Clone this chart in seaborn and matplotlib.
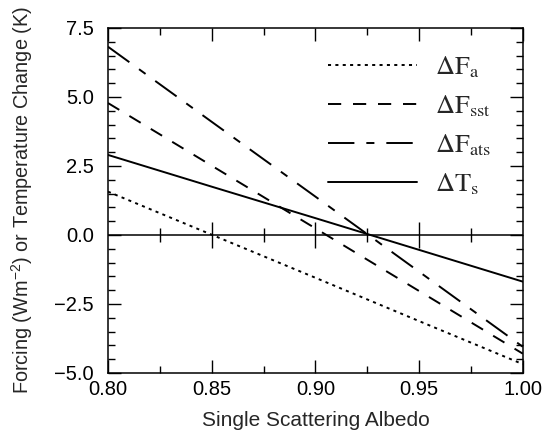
import numpy as np
import pandas as pd
import matplotlib
matplotlib.use("Agg")
import matplotlib.pyplot as plt
from matplotlib.ticker import MultipleLocator
import seaborn as sns

# values
albedo = [0.80, 0.85, 0.90, 0.95, 1.00]
dF_a = [1.57, 0.01, -1.55, -3.12, -4.68]
dF_sst = [4.78, 2.51, 0.24, -2.03, -4.30]
dF_ats = [6.82, 4.10, 1.39, -1.33, -4.05]
dT_s = [2.90, 1.75, 0.61, -0.54, -1.69]

series_names = [r"$\Delta\mathrm{F}_\mathrm{a}$", r"$\Delta\mathrm{F}_\mathrm{sst}$",
                r"$\Delta\mathrm{F}_\mathrm{ats}$", r"$\Delta\mathrm{T}_\mathrm{s}$"]

x_ticks = [0.80, 0.85, 0.90, 0.95, 1.00]
x_minor = [0.825, 0.875, 0.925, 0.975]
y_ticks = [-5.0, -2.5, 0.0, 2.5, 5.0, 7.5]

sns.set_theme(style="ticks")
plt.rcParams["font.family"] = ["Liberation Sans", "DejaVu Sans"]
plt.rcParams["mathtext.fontset"] = "stix"
plt.rcParams["lines.scale_dashes"] = False

df = pd.DataFrame({
    "albedo": albedo * 4,
    "value": dF_a + dF_sst + dF_ats + dT_s,
    "series": [n for n in series_names for _ in albedo],
})

# dash patterns in points (on, off, ...)
dash_map = {
    series_names[0]: (2.2, 3.1),
    series_names[1]: (9.5, 8.5),
    series_names[2]: (19.0, 8.6, 5.8, 8.6),
    series_names[3]: "",
}

fig = plt.figure(figsize=(5.44, 4.34), dpi=100)
ax = fig.add_axes([0.1985, 0.1406, 0.7625, 0.795])

sns.lineplot(data=df, x="albedo", y="value", style="series", style_order=series_names,
             dashes=dash_map, color="black", linewidth=1.4, ax=ax)

ax.set_xlim(0.80, 1.00)
ax.set_ylim(-5.0, 7.5)
ax.set_xticks(x_ticks)
ax.set_yticks(y_ticks)
ax.xaxis.set_minor_locator(MultipleLocator(0.025))
ax.yaxis.set_minor_locator(MultipleLocator(0.5))
ax.set_xticklabels([f"{v:.2f}" for v in x_ticks])
ax.set_yticklabels([f"{v:.1f}".replace("-", "\u2212") for v in y_ticks])

for sp in ax.spines.values():
    sp.set_linewidth(1.1)
    sp.set_color("black")
ax.tick_params(which="both", direction="in", top=True, right=True, colors="black",
               width=1.0, labelsize=14.5)
ax.tick_params(which="major", length=9.5)
ax.tick_params(which="minor", length=5)
ax.tick_params(axis="x", pad=5)
ax.tick_params(axis="y", pad=10)

# zero line with ticks crossing it
ax.axhline(0, color="black", linewidth=1.1)
ax.plot(x_ticks[1:-1], [0] * 3, ls="none", marker="|", ms=19, mew=1.0, color="black")
ax.plot(x_minor, [0] * len(x_minor), ls="none", marker="|", ms=9.5, mew=1.0, color="black")

ax.set_xlabel("Single Scattering Albedo", fontsize=15, labelpad=9)
ax.set_ylabel(r"Forcing (Wm$^\mathregular{-2}$) or Temperature Change (K)",
              fontsize=14.3, labelpad=14)

handles, labels = ax.get_legend_handles_labels()
ax.legend(handles[:4], labels[:4], loc="upper left", bbox_to_anchor=(0.498, 0.962),
          frameon=False, borderpad=0, handlelength=3.4, handletextpad=0.68,
          labelspacing=0.51, prop={"size": 19})

fig.savefig("out.png", dpi=100)
